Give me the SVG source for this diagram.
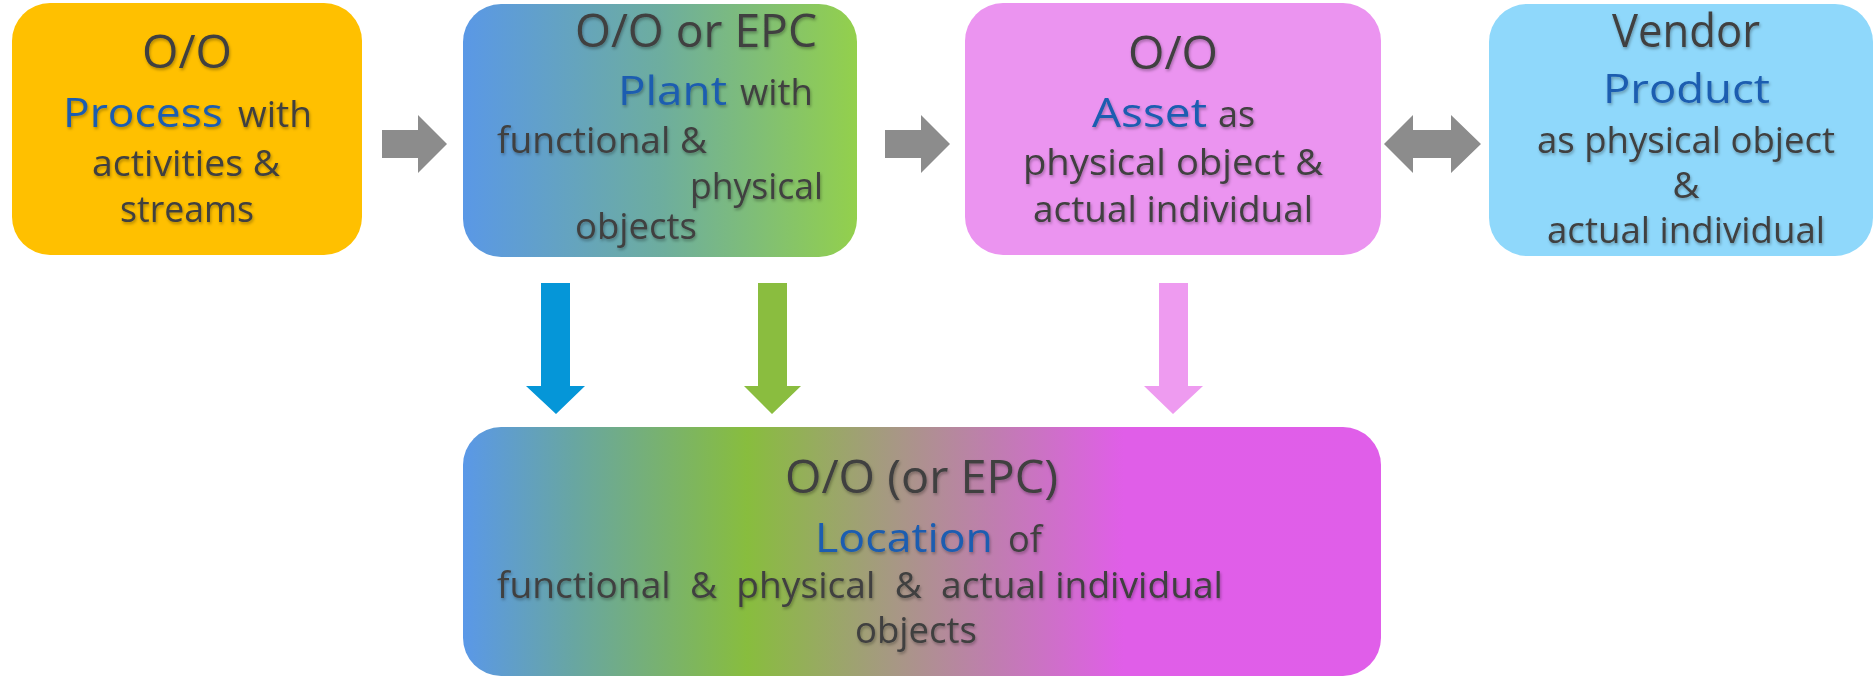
<svg xmlns="http://www.w3.org/2000/svg" width="1875" height="677" viewBox="0 0 1875 677">
  <defs>
    <linearGradient id="gradPlant" x1="0" y1="0" x2="1" y2="0">
      <stop offset="0" stop-color="#5A98E6"/>
      <stop offset="0.5" stop-color="#6DAD9F"/>
      <stop offset="1" stop-color="#93D04C"/>
    </linearGradient>
    <linearGradient id="gradLocation" x1="0" y1="0" x2="1" y2="0">
      <stop offset="0" stop-color="#5A98E8"/>
      <stop offset="0.12" stop-color="#68A6A2"/>
      <stop offset="0.31" stop-color="#88BD3E"/>
      <stop offset="0.46" stop-color="#A59A80"/>
      <stop offset="0.58" stop-color="#C07DB0"/>
      <stop offset="0.72" stop-color="#E05EE8"/>
      <stop offset="1" stop-color="#E05EE9"/>
    </linearGradient>
    <filter id="shadow" x="-10%" y="-20%" width="120%" height="150%">
      <feDropShadow dx="1" dy="2" stdDeviation="1.5" flood-color="#000" flood-opacity="0.3"/>
    </filter>
  </defs>
  <style>
    text { font-family: "Open Sans", "Noto Sans", "Liberation Sans", sans-serif; fill: #404040; filter: url(#shadow); }
    .big { font-size: 45px; }
    .key { font-size: 41px; fill: #1C5DB0; }
    .txt { font-size: 37px; }
    .grey { fill: #8C8C8C; }
  </style>

  <!-- Process -->
  <g id="process">
    <rect x="12" y="3" width="350" height="252" rx="38" fill="#FFC000"/>
    <text class="big" x="142" y="68" textLength="90" lengthAdjust="spacingAndGlyphs">O/O</text>
    <text class="key" x="63" y="127" textLength="160" lengthAdjust="spacingAndGlyphs">Process</text>
    <text class="txt" x="238" y="127" textLength="74" lengthAdjust="spacingAndGlyphs">with</text>
    <text class="txt" x="92" y="176" textLength="188" lengthAdjust="spacingAndGlyphs">activities &amp;</text>
    <text class="txt" x="120" y="222" textLength="134" lengthAdjust="spacingAndGlyphs">streams</text>
  </g>

  <!-- Plant -->
  <g id="plant">
    <rect x="463" y="4" width="394" height="253" rx="38" fill="url(#gradPlant)"/>
    <text class="big" x="575" y="47" textLength="242" lengthAdjust="spacingAndGlyphs">O/O or EPC</text>
    <text class="key" x="618" y="105" textLength="109" lengthAdjust="spacingAndGlyphs">Plant</text>
    <text class="txt" x="740" y="105" textLength="73" lengthAdjust="spacingAndGlyphs">with</text>
    <text class="txt" x="497" y="153" textLength="210" lengthAdjust="spacingAndGlyphs">functional &amp;</text>
    <text class="txt" x="690" y="199" textLength="133" lengthAdjust="spacingAndGlyphs">physical</text>
    <text class="txt" x="575" y="239" textLength="122" lengthAdjust="spacingAndGlyphs">objects</text>
  </g>

  <!-- Asset -->
  <g id="asset">
    <rect x="965" y="3" width="416" height="252" rx="38" fill="#EB94F0"/>
    <text class="big" x="1128" y="69" textLength="90" lengthAdjust="spacingAndGlyphs">O/O</text>
    <text class="key" x="1092" y="127" textLength="115" lengthAdjust="spacingAndGlyphs">Asset</text>
    <text class="txt" x="1218" y="127" textLength="37" lengthAdjust="spacingAndGlyphs">as</text>
    <text class="txt" x="1023" y="175" textLength="300" lengthAdjust="spacingAndGlyphs">physical object  &amp;</text>
    <text class="txt" x="1033" y="222" textLength="280" lengthAdjust="spacingAndGlyphs">actual individual</text>
  </g>

  <!-- Product -->
  <g id="product">
    <rect x="1489" y="4" width="384" height="252" rx="38" fill="#8FD8FB"/>
    <text class="big" x="1612" y="47" textLength="148" lengthAdjust="spacingAndGlyphs">Vendor</text>
    <text class="key" x="1603" y="103" textLength="167" lengthAdjust="spacingAndGlyphs">Product</text>
    <text class="txt" x="1537" y="153" textLength="298" lengthAdjust="spacingAndGlyphs">as physical object</text>
    <text class="txt" x="1686" y="198" text-anchor="middle">&amp;</text>
    <text class="txt" x="1547" y="243" textLength="278" lengthAdjust="spacingAndGlyphs">actual individual</text>
  </g>

  <!-- Location -->
  <g id="location">
    <rect x="463" y="427" width="918" height="249" rx="38" fill="url(#gradLocation)"/>
    <text class="big" x="785" y="493" textLength="273" lengthAdjust="spacingAndGlyphs">O/O (or EPC)</text>
    <text class="key" x="815" y="552" textLength="178" lengthAdjust="spacingAndGlyphs">Location</text>
    <text class="txt" x="1008" y="552" textLength="34" lengthAdjust="spacingAndGlyphs">of</text>
    <text class="txt" x="497" y="598" textLength="726" lengthAdjust="spacingAndGlyphs" xml:space="preserve">functional  &amp;  physical  &amp;  actual individual</text>
    <text class="txt" x="855" y="643" textLength="122" lengthAdjust="spacingAndGlyphs">objects</text>
  </g>

  <!-- Connectors: block arrows -->
  <g id="connectors">
    <polygon class="grey" points="382,130 418,130 418,115 447,144 418,173 418,158 382,158"/>
    <polygon class="grey" points="885,130 921,130 921,115 950,144 921,173 921,158 885,158"/>
    <polygon class="grey" points="1384,144 1413,115 1413,130 1451,130 1451,115 1481,144 1451,173 1451,158 1413,158 1413,173"/>
    <polygon fill="#0596D8" points="541,283 570,283 570,386 585,386 556,414 526,386 541,386"/>
    <polygon fill="#8ABD3F" points="758,283 787,283 787,386 801,386 772,414 744,386 758,386"/>
    <polygon fill="#EE9BF0" points="1159,283 1188,283 1188,386 1203,386 1173,414 1144,386 1159,386"/>
  </g>
</svg>
